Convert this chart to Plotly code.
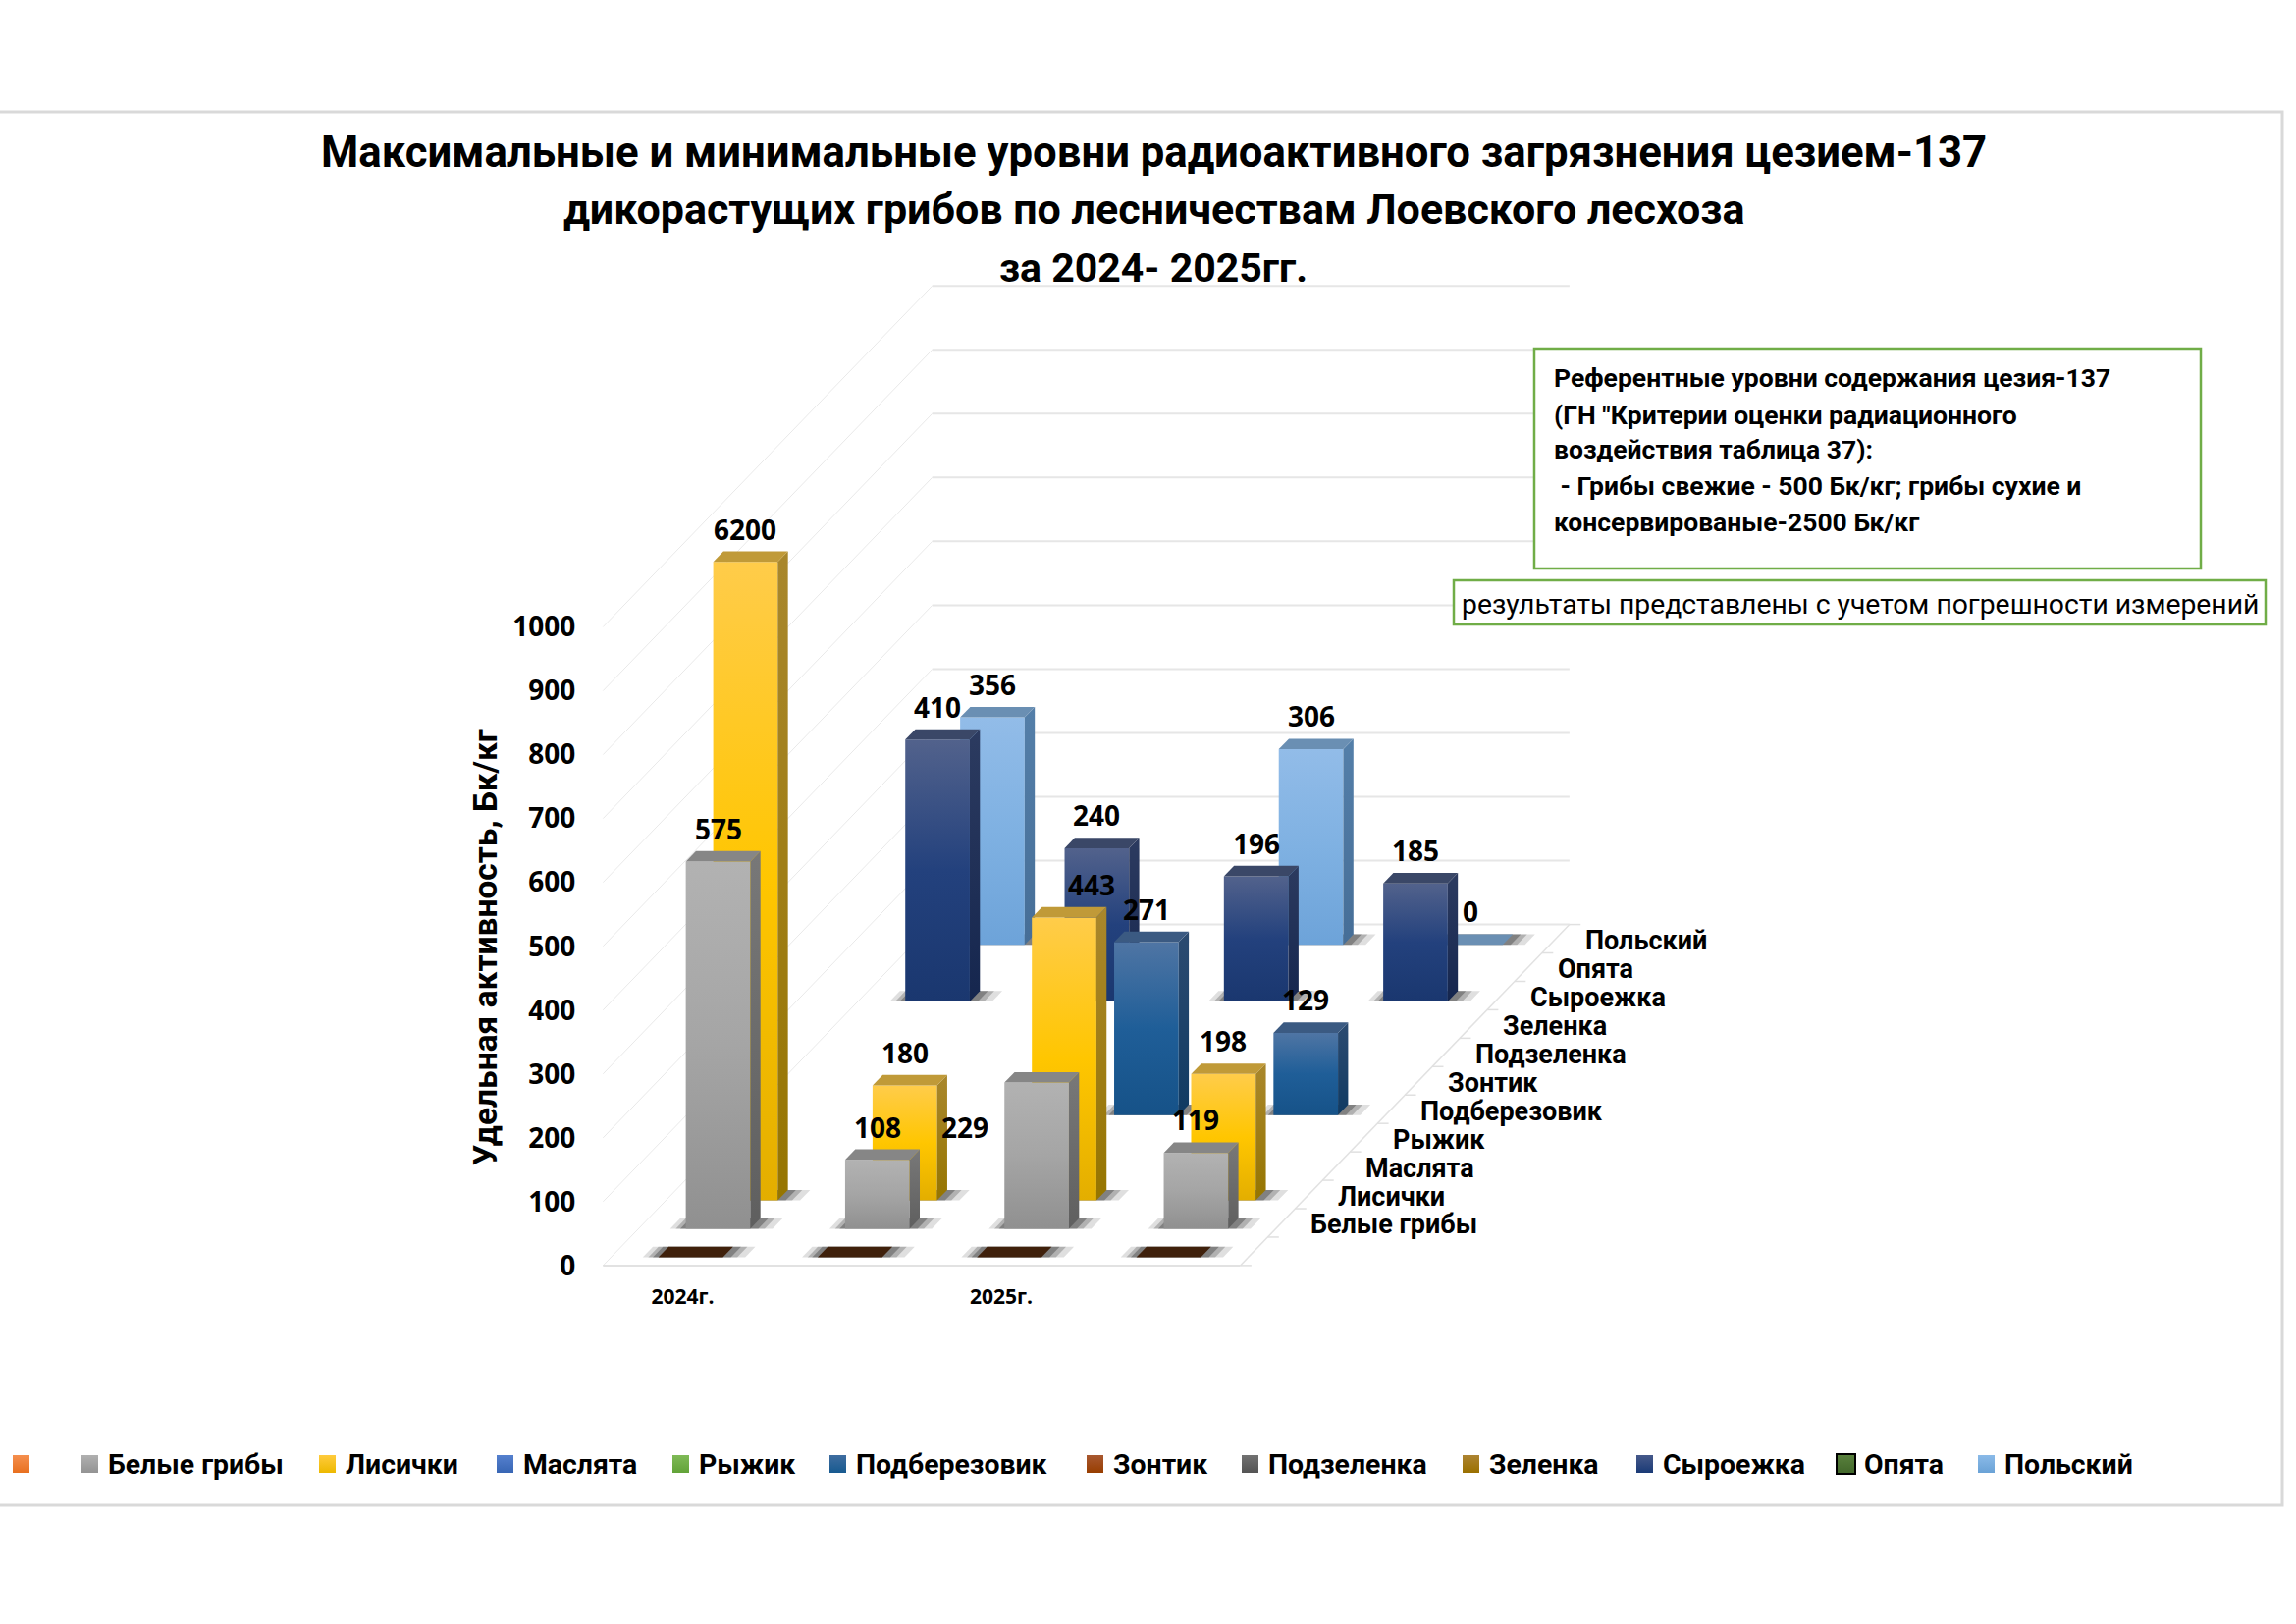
import plotly.graph_objects as go

# ---- data ----
CATEGORY_TICKS = [0.5, 2.5]
CATEGORY_LABELS = ["2024г.", "2025г."]
N_CATS = 4
SERIES_NAMES = ["", "Белые грибы", "Лисички", "Маслята", "Рыжик", "Подберезовик",
                "Зонтик", "Подзеленка", "Зеленка", "Сыроежка", "Опята", "Польский"]
blank = [0, 0, 0, 0]
belye = [575, 108, 229, 119]
lisichki = [6200, 180, 443, 198]
maslyata = [None, None, None, None]
ryzhik = [None, None, None, None]
podberezovik = [None, None, 271, 129]
zontik = [None, None, None, None]
podzelenka = [None, None, None, None]
zelenka = [None, None, None, None]
syroezhka = [410, 240, 196, 185]
opyata = [None, None, None, None]
polskiy = [356, None, 306, 0]
SERIES_VALUES = [blank, belye, lisichki, maslyata, ryzhik, podberezovik,
                 zontik, podzelenka, zelenka, syroezhka, opyata, polskiy]
VALUE_TICKS = [0, 100, 200, 300, 400, 500, 600, 700, 800, 900, 1000]
AXIS_MAX = 1000

# ---- styles: (top of front, middle, bottom, side top, side bottom, cap, legend top, legend bottom) ----
STYLES = {
    0: ("#F58A42", "#ED7D31", "#E06C1C", "#8A4A1E", "#7A3E15", "#3F200B", "#F58F4E", "#E8701F"),
    1: ("#B2B2B2", "#A5A5A5", "#909090", "#787878", "#5F5F5F", "#868686", "#B0B0B0", "#939393"),
    2: ("#FFCC4A", "#FFC600", "#E3AE00", "#A9872C", "#967500", "#C09A38", "#FFCB3D", "#EDB900"),
    3: ("#4F81D0", "#4472C4", "#3A62A8", "#2F4F88", "#2A4578", "#3A5A90", "#5580CE", "#3866B4"),
    4: ("#84BC5A", "#70AD47", "#5E963A", "#4A7530", "#406528", "#55803A", "#7FBA57", "#62A338"),
    5: ("#4F75A4", "#1F5E98", "#165288", "#2C4B71", "#103A62", "#3B5A82", "#3F6DA0", "#175A90"),
    6: ("#A85A2A", "#9E480E", "#8A3E0A", "#6A3008", "#5A2806", "#7A3A10", "#A85830", "#983E00"),
    7: ("#757575", "#636363", "#525252", "#404040", "#353535", "#505050", "#727272", "#545454"),
    8: ("#AD8A30", "#997300", "#856300", "#6A5000", "#5A4400", "#7A5C00", "#AD8432", "#9A7000"),
    9: ("#52628C", "#23417D", "#1A376F", "#2C3B60", "#15264E", "#3A4767", "#46598A", "#1A3A76"),
    10: ("#5F8A40", "#43682B", "#385824", "#2C451C", "#253A18", "#365320", "#58803C", "#43682B"),
    11: ("#92BCE8", "#7FB1E2", "#6DA3D9", "#547FA9", "#466E97", "#6A8FB3", "#8ABAE8", "#6AA2D6"),
}

FIG_W, FIG_H = 2339, 1654
FLOOR_LEFT_PX = 614.3   # pixel x of the front-left floor corner
FLOOR_Y_PX = 1288.9     # pixel y of value 0 at the front edge
CAT_PX = 162.3          # pixels per category
VAL_PX = 0.6504         # pixels per unit of value
N_ROWS = len(SERIES_NAMES)
ROW_DX = 0.1722         # category units of shift per depth row
ROW_DY = 44.5           # value units of shift per depth row
BAR_W = 0.405
FRONT, BACK = 0.29, 0.66
TEXT_FONT = "Roboto"
NUM_FONT = "Open Sans"

XR = [-FLOOR_LEFT_PX / CAT_PX, (FIG_W - FLOOR_LEFT_PX) / CAT_PX]
YR = [(FLOOR_Y_PX - FIG_H) / VAL_PX, FLOOR_Y_PX / VAL_PX]


def proj(cat, row, val=0.0):
    return cat + row * ROW_DX, val + row * ROW_DY


def px_to_data(px, py):
    return XR[0] + px / CAT_PX, YR[1] - py / VAL_PX


fig = go.Figure()


def poly(pts, color=None, grad=None, name=""):
    xs = [p[0] for p in pts] + [pts[0][0]]
    ys = [p[1] for p in pts] + [pts[0][1]]
    kw = dict(x=xs, y=ys, mode="lines", fill="toself", line=dict(width=0),
              hoverinfo="skip", showlegend=False, name=name)
    if grad is not None:
        lo, hi, scale = grad
        kw["fillgradient"] = dict(type="vertical", colorscale=scale, start=lo, stop=hi)
    else:
        kw["fillcolor"] = color
    fig.add_trace(go.Scatter(**kw))


def line(pts, color, width):
    fig.add_trace(go.Scatter(x=[p[0] for p in pts], y=[p[1] for p in pts], mode="lines",
                             line=dict(color=color, width=width), hoverinfo="skip", showlegend=False))


# ---- walls, floor ----
for v in VALUE_TICKS:
    line([proj(0, 0, v), proj(0, N_ROWS, v)], "#E9E9E9", 1)
    line([proj(0, N_ROWS, v), proj(N_CATS, N_ROWS, v)], "#E6E6E6", 2)
line([proj(0, 0), proj(N_CATS, 0)], "#D9D9D9", 1.5)
line([proj(N_CATS, 0), proj(N_CATS, N_ROWS)], "#E2E2E2", 1.5)
for r in range(N_ROWS + 1):
    line([proj(N_CATS, r), proj(N_CATS + 0.07, r)], "#E0E0E0", 1.5)

# ---- bars, back to front ----
LABEL_SHIFT = {(1, 2): (-73, -79), (2, 2): (28, 0)}
annotations = []
for row in range(N_ROWS - 1, -1, -1):
    st = STYLES[row]
    for cat in range(N_CATS):
        val = SERIES_VALUES[row][cat]
        if val is None:
            continue
        h = min(val, AXIS_MAX)
        l = cat + 0.5 - BAR_W / 2
        r = cat + 0.5 + BAR_W / 2
        f, b = row + FRONT, row + BACK
        # soft floor shadow
        for grow, op in ((0.14, 0.15), (0.09, 0.25), (0.05, 0.35)):
            poly([proj(l - grow * 0.7, f), proj(r + grow, f),
                  proj(r + grow, b), proj(l - grow * 0.7, b)], f"rgba(40,40,40,{op})")
        if h > 0:
            base = proj(l, f)[1]
            top = proj(l, f, h)[1]
            poly([proj(l, f), proj(r, f), proj(r, f, h), proj(l, f, h)],
                 grad=(base, top, [[0, st[2]], [0.5, st[1]], [1, st[0]]]), name=SERIES_NAMES[row])
            poly([proj(r, f), proj(r, b), proj(r, b, h), proj(r, f, h)],
                 grad=(base, proj(r, b, h)[1], [[0, st[4]], [1, st[3]]]))
        poly([proj(l, f, h), proj(r, f, h), proj(r, b, h), proj(l, b, h)], st[5])
        if row > 0:
            sx, sy = LABEL_SHIFT.get((row, cat), (0, 0))
            ax, ay = proj((l + r) / 2, f)[0], proj(l, b, h)[1]
            annotations.append(dict(x=ax, y=ay, xref="x", yref="y", text=str(val), showarrow=False,
                                    yanchor="bottom", xanchor="center", yshift=2 + sy, xshift=sx,
                                    font=dict(family=NUM_FONT, size=28, color="#000000", weight="bold")))

# ---- depth axis labels ----
for row in range(1, N_ROWS):
    x, y = proj(N_CATS, row + 0.5)
    annotations.append(dict(x=x, y=y, xref="x", yref="y", text=SERIES_NAMES[row], showarrow=False,
                            xanchor="left", yanchor="middle", xshift=28, yshift=-2,
                            font=dict(family=TEXT_FONT, size=27, color="#000000", weight="bold")))


# ---- free text in page pixels ----
def text_px(t, cx, cy, size, bold=True, anchor="center", angle=0, family=TEXT_FONT):
    annotations.append(dict(x=cx / FIG_W, y=1 - cy / FIG_H, xref="paper", yref="paper", text=t,
                            showarrow=False, xanchor=anchor, yanchor="middle", textangle=angle,
                            font=dict(family=family, size=size, color="#000000",
                                      weight="bold" if bold else "normal")))


TITLE_LINES = ["Максимальные и минимальные уровни радиоактивного загрязнения цезием-137",
               "дикорастущих грибов по лесничествам Лоевского лесхоза",
               "за 2024- 2025гг."]
for t, cy, sz in zip(TITLE_LINES, (155, 213, 273), (43.7, 43, 41)):
    text_px(t, 1175, cy, sz)
text_px("Удельная активность, Бк/кг", 494, 965, 33.5, angle=-90)

BOX_LINES = ["Референтные уровни содержания цезия-137",
             "(ГН \"Критерии оценки радиационного",
             "воздействия таблица 37):",
             " - Грибы свежие - 500 Бк/кг; грибы сухие и",
             "консервированые-2500 Бк/кг"]
for t, cy in zip(BOX_LINES, (385, 422, 458, 494, 531)):
    text_px(t, 1581, cy, 26.5, anchor="left")
text_px("результаты представлены с учетом погрешности измерений", 1487, 615, 28.3, bold=False, anchor="left")

# ---- legend, laid out like the reference ----
LEGEND_SWATCH_PX = [13, 83, 325, 506, 685, 845, 1107, 1265, 1490, 1667, 1872, 2015]
for i, (name, sx) in enumerate(zip(SERIES_NAMES, LEGEND_SWATCH_PX)):
    st = STYLES[i]
    x0, y1 = px_to_data(sx, 1482)
    x1, y0 = px_to_data(sx + 17, 1500)
    if i == 10:
        bx0, by1 = px_to_data(sx - 2, 1480)
        bx1, by0 = px_to_data(sx + 19, 1502)
        poly([(bx0, by0), (bx1, by0), (bx1, by1), (bx0, by1)], "#000000")
    poly([(x0, y0), (x1, y0), (x1, y1), (x0, y1)], grad=(y0, y1, [[0, st[7]], [1, st[6]]]))
    if name:
        text_px(name, sx + 25, 1491, 28.4, anchor="left")

# ---- frame and note boxes ----
shapes = [
    dict(type="rect", xref="paper", yref="paper", x0=-0.01, x1=2325 / FIG_W, y0=1 - 1533 / FIG_H, y1=1 - 114 / FIG_H,
         line=dict(color="#D9D9D9", width=3), fillcolor="rgba(0,0,0,0)", layer="below"),
    dict(type="rect", xref="paper", yref="paper", x0=1563 / FIG_W, x1=2242 / FIG_W, y0=1 - 579 / FIG_H, y1=1 - 355 / FIG_H,
         line=dict(color="#70AD47", width=2.5), fillcolor="#FFFFFF", layer="above"),
    dict(type="rect", xref="paper", yref="paper", x0=1481 / FIG_W, x1=2308 / FIG_W, y0=1 - 636 / FIG_H, y1=1 - 591 / FIG_H,
         line=dict(color="#70AD47", width=2.5), fillcolor="#FFFFFF", layer="above"),
]

fig.update_layout(
    width=FIG_W, height=FIG_H, autosize=False, margin=dict(l=0, r=0, t=0, b=0),
    paper_bgcolor="#FFFFFF", plot_bgcolor="#FFFFFF", showlegend=False,
    shapes=shapes, annotations=annotations,
    xaxis=dict(range=XR, domain=[0, 1], tickvals=CATEGORY_TICKS, ticktext=CATEGORY_LABELS, showgrid=False,
               zeroline=False, showline=False, ticks="", anchor="free", position=(FIG_H - FLOOR_Y_PX) / FIG_H,
               ticklabelstandoff=17, tickfont=dict(family=NUM_FONT, size=21, color="#000000", weight="bold")),
    yaxis=dict(range=YR, domain=[0, 1], tickvals=VALUE_TICKS, showgrid=False, zeroline=False, showline=False,
               ticks="", anchor="free", position=FLOOR_LEFT_PX / FIG_W, ticklabelstandoff=28,
               tickfont=dict(family=NUM_FONT, size=28, color="#000000", weight="bold")),
)
fig.write_html("out.html", config={"displayModeBar": False}, post_script="document.body.style.margin='0';")
